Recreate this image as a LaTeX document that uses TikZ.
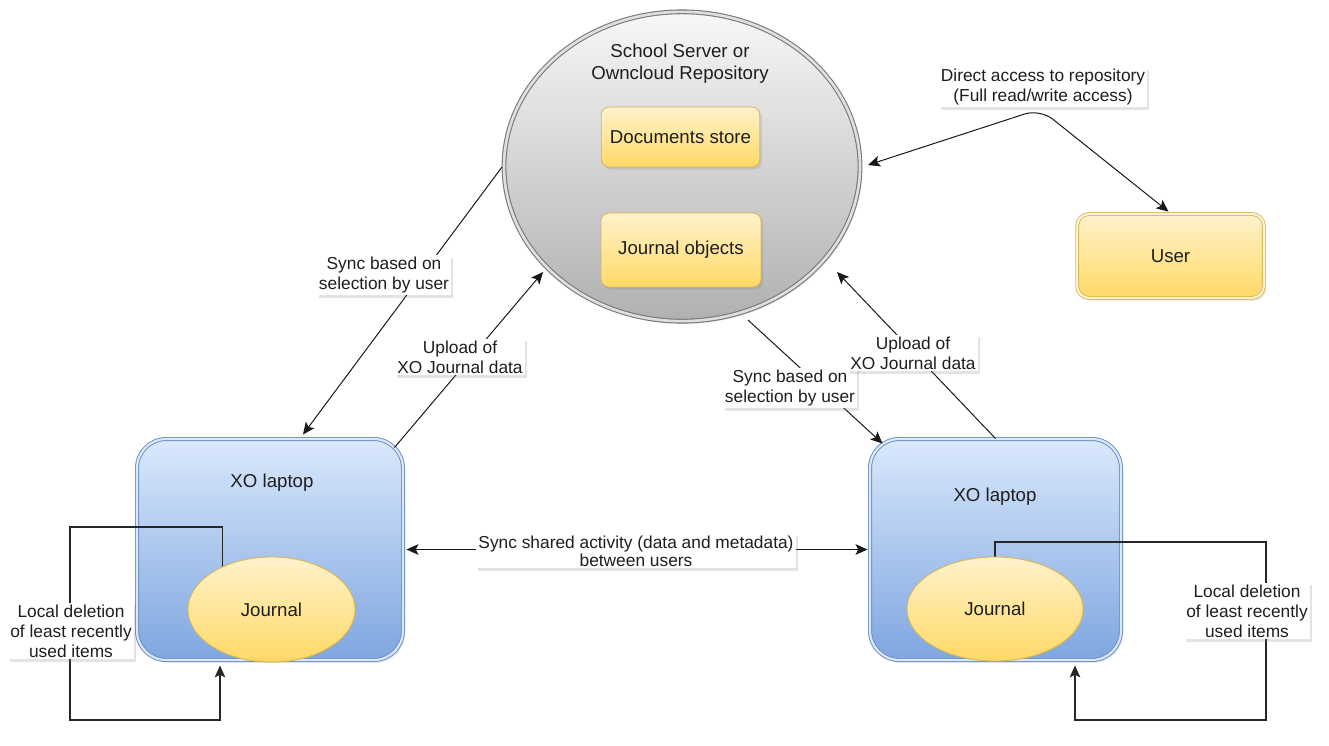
\documentclass[tikz,border=0pt]{standalone}
\usepackage{fontspec}
\setmainfont{Liberation Sans}
\usetikzlibrary{arrows.meta,calc,shadows,shapes.geometric}
\definecolor{txt}{HTML}{1E1E1E}
\definecolor{ytop}{HTML}{FFF2CC}
\definecolor{ybot}{HTML}{FFD966}
\definecolor{ydraw}{HTML}{D6B656}
\definecolor{btop}{HTML}{DAE8FC}
\definecolor{bbot}{HTML}{7EA6E0}
\definecolor{bdraw}{HTML}{6C8EBF}
\definecolor{gtop}{HTML}{F7F7F7}
\definecolor{gbot}{HTML}{B0B0B0}
\definecolor{gdraw}{HTML}{777777}
\begin{document}
\begin{tikzpicture}[x=0.75pt,y=-0.75pt,
  every node/.style={text=txt, font=\fontsize{14}{16.5}\selectfont, align=center},
  shad/.style={drop shadow={opacity=0.22, shadow xshift=1.5pt, shadow yshift=-2pt}},
  srvshape/.style={ellipse, inner sep=0pt, draw=gdraw, double=gtop!80!gray, double distance=2pt, line width=0.8pt, top color=gtop, bottom color=gbot, shad},
  ybox/.style={rectangle, rounded corners=6pt, draw=ydraw, line width=0.6pt, top color=ytop, bottom color=ybot, inner sep=0pt, shad},
  ubox/.style={rectangle, rounded corners=9pt, draw=ydraw, double=ytop, double distance=1.6pt, line width=0.6pt, top color=ytop, bottom color=ybot, inner sep=0pt, shad},
  lapbox/.style={rectangle, rounded corners=22pt, draw=bdraw, double=btop, double distance=1.6pt, line width=0.7pt, top color=btop, bottom color=bbot, inner sep=0pt, shad},
  jellipse/.style={ellipse, draw=ydraw, line width=0.6pt, top color=ytop, bottom color=ybot, inner sep=0pt},
  conn/.style={draw=black!90, line width=0.75pt},
  loopline/.style={draw=black!85, line width=1pt},
  arr/.style={-{Stealth[length=9pt,width=8pt,inset=2pt]}},
  darr/.style={{Stealth[length=9pt,width=8pt,inset=2pt]}-{Stealth[length=9pt,width=8pt,inset=2pt]}},
  lbl/.style={fill=white, inner sep=1.5pt, font=\fontsize{13}{15}\selectfont, shad}
]
\useasboundingbox (0,0) rectangle (1329,746);
\fill[white] (0,0) rectangle (1329,746);

% server
\node[srvshape, minimum width=267pt, minimum height=232pt] (srv) at (682,166.5) {};
\node (srvt) at (680,64) {School Server or\\Owncloud Repository};
\node[ybox, minimum width=119pt, minimum height=45pt] (docs) at (680.5,137) {Documents store};
\node[ybox, minimum width=120pt, minimum height=55.5pt] (jobj) at (681,250) {Journal objects};

% connection points near the server border
\coordinate (srvL) at ($(srv.center)+(-180,0.5)$);
\coordinate (srvLL) at ($(srv.center)+(-139,105.5)$);
\coordinate (srvB) at ($(srv.center)+(66,153.5)$);
\coordinate (srvBR) at ($(srv.center)+(155,105.5)$);
\coordinate (srvR) at ($(srv.center)+(186,-1.5)$);

% user
\node[ubox, minimum width=140pt, minimum height=63pt] (user) at (1170.5,256) {User};

% laptops
\node[lapbox, minimum width=199.5pt, minimum height=165.75pt] (lapL) at (270,549.5) {};
\node[lapbox, minimum width=188.25pt, minimum height=165.75pt] (lapR) at (995.5,549.5) {};
\node (lapLt) at (272,483) {XO laptop};
\node (lapRt) at (995,497) {XO laptop};

% loops (drawn before journals)
\coordinate (lc1) at (70,527);
\coordinate (lc2) at (70,720);
\coordinate (rc1) at (1266,542);
\coordinate (rc2) at (1266,720);
\node[jellipse, minimum width=125.25pt, minimum height=78.75pt] (jL) at (271.5,609.5) {};
\node[jellipse, minimum width=132pt, minimum height=78pt] (jR) at (995,609) {};
\draw[loopline, arr] (jL.139) |- (lc1) -- (lc2) -| ($(lapL.south)+(-50,5)$);
\draw[loopline, arr] (jR.north) |- (rc1) -- (rc2) -| ($(lapR.south)+(79.5,5)$);
\node[jellipse, minimum width=125.25pt, minimum height=78.75pt] at (271.5,609.5) {Journal};
\node[jellipse, minimum width=132pt, minimum height=78pt] at (995,609) {Journal};

% connectors
\draw[conn, arr] (srvL) -- ($(lapL.north)+(33,-4)$);
\draw[conn, arr] ($(lapL.north east)+(-9,9)$) -- (srvLL);
\draw[conn, arr] (srvB) -- ($(lapR.north west)+(13,5)$);
\draw[conn, arr] (lapR.north) -- (srvBR);
\draw[conn, darr] ($(lapL.east)+(3,0)$) -- ($(lapR.west)+(-2,0)$);
\coordinate (dacorner) at (1040,109);
\draw[conn, darr, rounded corners=12pt] (srvR) -- (dacorner) -- ($(user.north)+(-2,-2)$);

% labels
\node[lbl] (l1) at (1043,87) {Direct access to repository\\(Full read/write access)};
\node[lbl] (l2) at (384,275) {Sync based on\\selection by user};
\node[lbl] (l3) at (460,357) {Upload of\\XO Journal data};
\node[lbl] (l4) at (790,388) {Sync based on\\selection by user};
\node[lbl] (l5) at (913,353) {Upload of\\XO Journal data};
\node[lbl, font=\fontsize{13}{13.5}\selectfont] (l6) at (636,551) {Sync shared activity (data and metadata)\\between users};
\node[lbl] (l7) at (71,631) {Local deletion\\of least recently\\used items};
\node[lbl] (l8) at (1247,611) {Local deletion\\of least recently\\used items};
\end{tikzpicture}
\end{document}
